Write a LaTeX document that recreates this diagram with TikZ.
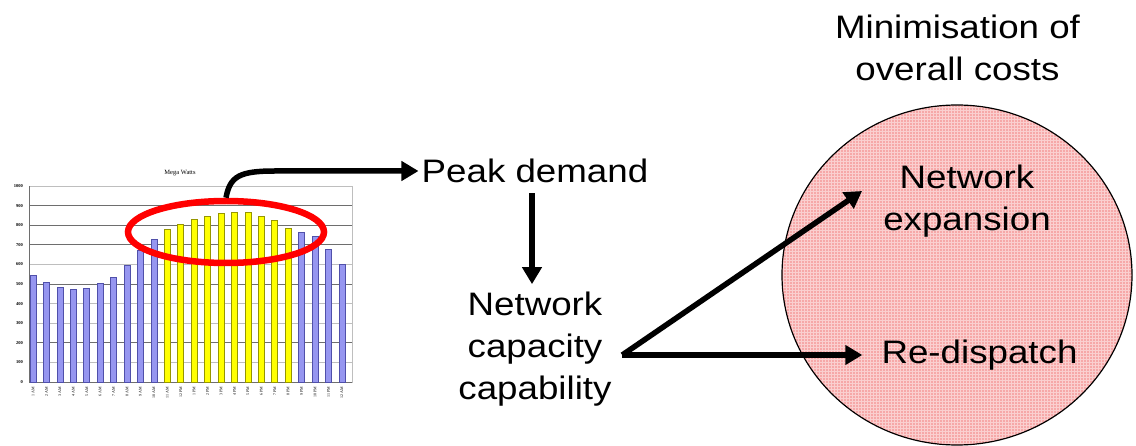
\documentclass[tikz,border=0pt]{standalone}
\usepackage{fontspec}
\setmainfont{Liberation Sans}[FakeStretch=1.13]
\newfontfamily\chartfont{Liberation Serif}
\usetikzlibrary{arrows.meta,shapes.geometric,patterns}
\definecolor{barblue}{RGB}{150,150,240}
\definecolor{barblueedge}{RGB}{80,80,170}
\definecolor{baryellow}{RGB}{255,255,0}
\definecolor{baryellowedge}{RGB}{150,150,0}
\definecolor{circpink}{RGB}{246,168,168}
\definecolor{gridlight}{RGB}{190,190,190}
\definecolor{griddark}{RGB}{110,110,110}
\tikzset{
  lbl/.style={font=\fontsize{32.5}{42}\selectfont, align=center, inner sep=0pt},
  arr/.style={line width=5.5pt, -{Triangle[length=17pt,width=19pt]}},
  ticklbl/.style={font=\chartfont\bfseries\fontsize{4.5}{5}\selectfont, inner sep=0pt, anchor=east},
  hourlbl/.style={font=\chartfont\fontsize{4}{4}\selectfont, inner sep=0pt, anchor=east, rotate=90},
}
\begin{document}
\begin{tikzpicture}[x=1pt,y=-1pt]
\useasboundingbox (0,0) rectangle (1136,446);
% ---------- chart ----------
\node[font=\chartfont\fontsize{6.5}{7}\selectfont, inner sep=0pt] (title) at (180,173) {Mega Watts};
\foreach \k in {1,...,10} {
  \draw[gridlight, line width=0.8pt] (29,{382-\k*19.6}) -- (352,{382-\k*19.6});
}
\foreach \k in {2,5,7,8,9} {
  \draw[griddark, line width=0.8pt] (29,{382-\k*19.6}) -- (352,{382-\k*19.6});
}
\draw[gridlight, line width=0.8pt] (29,186) rectangle (352,382);
\draw[griddark, line width=0.8pt] (29,186) -- (29,382) -- (352,382);
\foreach \k in {0,...,10} {
  \pgfmathtruncatemacro\lab{\k*100}
  \node[ticklbl] at (23,{382-\k*19.6}) {\lab};
}
\foreach \v/\h [count=\i] in {545/1 AM,510/2 AM,485/3 AM,475/4 AM,480/5 AM,505/6 AM,535/7 AM,595/8 AM,670/9 AM,727/10 AM,
  777/11 AM,803/12 PM,828/1 PM,847/2 PM,859/3 PM,866/4 PM,864/5 PM,848/6 PM,824/7 PM,786/8 PM,
  763/9 PM,745/10 PM,675/11 PM,602/12 AM} {
  \pgfmathsetmacro\xx{33+(\i-1)*13.43}
  \ifnum\i>10 \ifnum\i<21 \def\bc{baryellow}\def\be{baryellowedge}\else\def\bc{barblue}\def\be{barblueedge}\fi
  \else\def\bc{barblue}\def\be{barblueedge}\fi
  \filldraw[fill=\bc, draw=\be, line width=0.5pt] ({\xx-3},382) rectangle ({\xx+3},{382-\v*0.196});
  \node[hourlbl] at (\xx,387) {\h};
}
\node[draw=red, ellipse, line width=6.5pt, minimum width=196pt, minimum height=62pt, inner sep=0pt] (hl) at (226,232) {};
% ---------- big circle ----------
\node[ellipse, draw=black, line width=1.2pt, fill=circpink, minimum width=350pt, minimum height=340pt, inner sep=0pt] (cost) at (957,275) {};
\fill[pattern=grid, pattern color=white!45!circpink] (cost.center) ellipse [x radius=174pt, y radius=169pt];
% ---------- texts ----------
\node[lbl] (mini) at (957.5,48) {Minimisation of\\overall costs};
\node[lbl] (peak) at (535,171) {Peak demand};
\node[lbl] (ncc) at (535,349) {Network\\capacity\\capability};
\node[lbl] (ne) at (967,201.5) {Network\\expansion};
\node[lbl] (rd) at (979.5,355) {Re-dispatch};
% ---------- connectors ----------
\coordinate (jn) at ([xshift=10.5pt, yshift=-6pt]ncc.east);
\draw[arr] (hl.north) .. controls (230,176) and (240,171) .. (275,171) -- ([xshift=-3pt]peak.west);
\draw[arr] ([xshift=-3pt, yshift=-10pt]peak.south) -- ([xshift=-3pt, yshift=7.5pt]ncc.north);
\draw[arr] (jn) -- ([xshift=-21pt, yshift=10.5pt]ne.west);
\draw[arr] (jn) -- ([xshift=-19pt]rd.west);
\end{tikzpicture}
\end{document}
